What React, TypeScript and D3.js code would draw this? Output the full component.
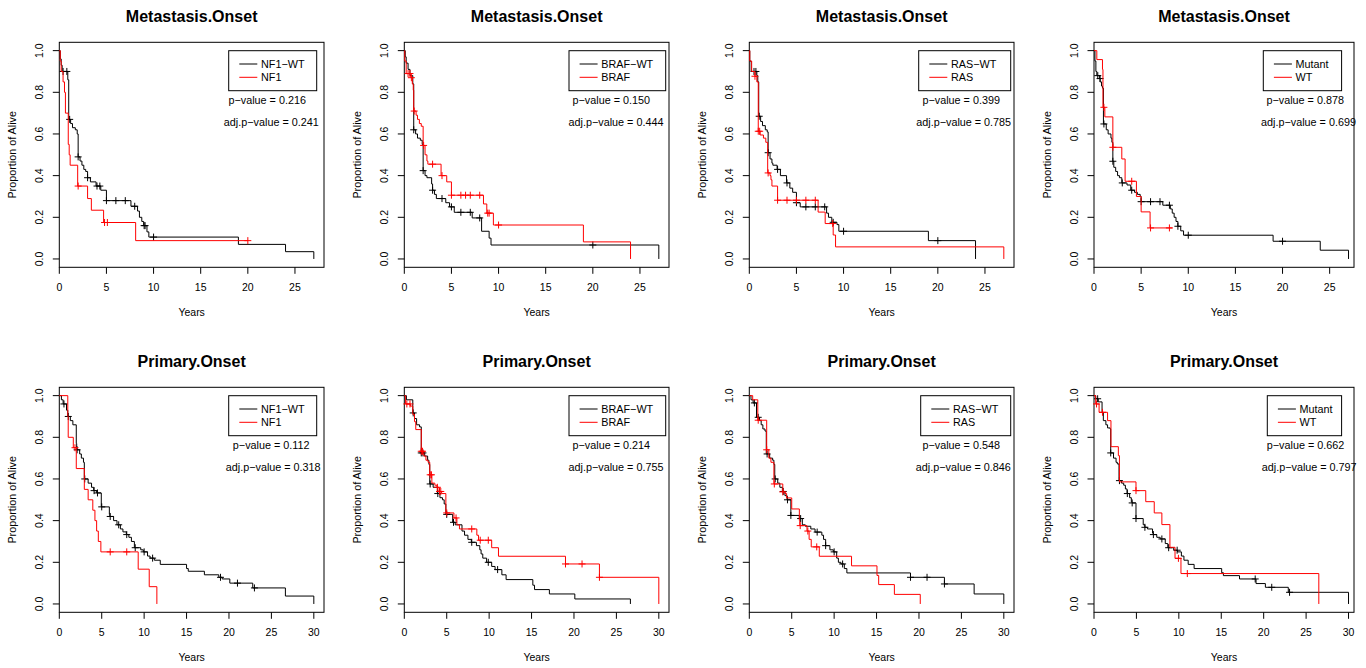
import React from "react";
import * as d3 from "d3";

// survival curves: [years, proportion alive after the event]
const metaNF1wt = [[0,1],[0.1,0.96],[0.2,0.93],[0.3,0.9],[0.9,0.86],[1.0,0.67],[1.2,0.65],[1.4,0.63],[1.7,0.62],[1.9,0.6],[2.0,0.49],[2.2,0.47],[2.4,0.45],[2.6,0.43],[2.8,0.42],[3.0,0.39],[3.3,0.37],[3.9,0.35],[4.4,0.33],[5.0,0.28],[7.6,0.253],[8.3,0.23],[8.5,0.2],[8.75,0.18],[8.95,0.16],[9.3,0.13],[9.5,0.105],[19,0.07],[24,0.035],[27,0]];
const metaNF1wtCens = [0.4,0.8,1.1,2.0,3.0,4.0,4.3,5.0,6.0,7.0,8.0,9.0,9.1,10.0];
const metaNF1 = [[0,1],[0.1,0.95],[0.2,0.9],[0.4,0.85],[0.55,0.8],[0.65,0.7],[0.95,0.55],[1.05,0.5],[1.15,0.45],[1.95,0.35],[3.0,0.29],[3.4,0.234],[4.7,0.175],[8.1,0.088],[20,0.088]];
const metaNF1Cens = [2.0,4.8,5.1,20];

const metaBRAFwt = [[0,1],[0.1,0.97],[0.2,0.94],[0.4,0.91],[0.6,0.88],[0.9,0.84],[1.0,0.62],[1.2,0.6],[1.4,0.58],[1.7,0.57],[1.9,0.55],[2.0,0.424],[2.2,0.4],[2.4,0.39],[2.9,0.36],[3.0,0.33],[3.2,0.31],[3.4,0.29],[4.4,0.27],[4.8,0.25],[5.3,0.224],[7.2,0.197],[8.2,0.133],[9.0,0.1],[9.2,0.067],[27,0]];
const metaBRAFwtCens = [1.0,2.0,3.0,4.0,5.0,6.0,7.0,8.0,20];
const metaBRAF = [[0,1],[0.05,0.95],[0.2,0.89],[0.7,0.87],[0.85,0.84],[0.95,0.81],[1.0,0.71],[1.25,0.69],[1.4,0.67],[1.6,0.65],[1.8,0.637],[2.0,0.545],[2.2,0.5],[2.4,0.47],[2.5,0.455],[3.9,0.4],[4.5,0.37],[5.0,0.306],[8.4,0.264],[8.75,0.22],[9.45,0.163],[19,0.082],[24,0]];
const metaBRAFCens = [0.4,0.6,0.75,1.05,2.05,3.0,4.0,5.0,6.0,6.5,7.0,8.0,8.85,9.0,10.0];

const metaRASwt = [[0,1],[0.05,0.95],[0.2,0.9],[0.8,0.88],[0.9,0.85],[1.0,0.685],[1.2,0.66],[1.4,0.64],[1.7,0.62],[1.9,0.61],[2.0,0.51],[2.2,0.48],[2.4,0.46],[2.5,0.45],[2.95,0.43],[3.3,0.4],[3.95,0.365],[4.3,0.34],[4.6,0.32],[5.0,0.27],[5.4,0.25],[8.2,0.22],[8.4,0.2],[8.75,0.176],[9.3,0.165],[9.5,0.133],[19,0.088],[24,0]];
const metaRASwtCens = [0.5,0.7,1.05,2.0,3.0,4.0,5.0,6.0,7.0,8.0,8.9,10.0,20];
const metaRAS = [[0,1],[0.05,0.95],[0.25,0.9],[0.6,0.877],[0.8,0.85],[0.95,0.613],[1.15,0.595],[1.5,0.58],[1.75,0.56],[1.95,0.413],[2.2,0.4],[2.3,0.38],[2.4,0.35],[3.0,0.282],[7.3,0.225],[8.05,0.17],[8.9,0.115],[9.15,0.058],[27,0]];
const metaRASCens = [0.6,0.95,1.1,2.0,3.0,4.0,5.0,6.0,7.0,8.85];

const metaMut = [[0,1],[0.1,0.95],[0.2,0.9],[0.3,0.88],[0.6,0.866],[0.65,0.85],[0.8,0.83],[0.9,0.82],[1.0,0.648],[1.3,0.62],[1.5,0.6],[1.8,0.58],[1.9,0.56],[2.0,0.469],[2.1,0.44],[2.3,0.42],[2.5,0.4],[2.7,0.39],[2.95,0.365],[3.5,0.355],[3.9,0.33],[4.3,0.32],[4.6,0.31],[4.9,0.3],[5.0,0.275],[7.3,0.258],[8.1,0.24],[8.3,0.22],[8.5,0.2],[8.7,0.18],[8.9,0.157],[9.2,0.135],[9.5,0.114],[19,0.085],[24,0.042],[27,0]];
const metaMutCens = [0.4,0.64,1.05,2.0,3.0,4.0,5.0,6.0,7.0,8.0,8.9,10.0,20];
const metaWT = [[0,1],[0.3,0.957],[0.9,0.91],[0.95,0.728],[1.15,0.682],[2.0,0.536],[2.95,0.48],[3.3,0.373],[4.5,0.3],[5.0,0.226],[5.95,0.149],[8.3,0.149]];
const metaWTCens = [1.05,2.0,4.0,6.0,8.0];

const primNF1wt = [[0,1],[0.25,0.98],[0.45,0.96],[0.85,0.93],[1.0,0.9],[1.3,0.88],[1.6,0.86],[2.0,0.77],[2.05,0.74],[2.4,0.72],[2.6,0.7],[2.85,0.68],[2.95,0.6],[3.4,0.58],[3.8,0.56],[4.05,0.544],[4.4,0.533],[4.95,0.466],[5.9,0.43],[5.95,0.42],[6.4,0.4],[6.8,0.38],[7.2,0.36],[7.5,0.346],[7.9,0.333],[8.2,0.32],[8.5,0.3],[8.85,0.27],[9.6,0.26],[9.9,0.25],[10.4,0.23],[10.7,0.22],[11.2,0.21],[11.9,0.19],[15.0,0.17],[15.2,0.157],[17.1,0.14],[18.8,0.128],[19.2,0.12],[20.1,0.1],[22.8,0.077],[26.65,0.038],[30,0]];
const primNF1wtCens = [0.55,1.06,2.1,3.0,4.1,4.5,5.0,6.0,7.0,7.95,8.95,10.0,11.0,19.0,21.0,23.0];
const primNF1 = [[0,1],[1.0,0.9],[1.05,0.8],[1.65,0.75],[2.0,0.65],[2.95,0.55],[3.4,0.5],[3.95,0.45],[4.2,0.4],[4.4,0.35],[4.6,0.3],[4.9,0.25],[9.3,0.167],[10.6,0.083],[11.5,0]];
const primNF1Cens = [1.85,6.0,7.95];

const primBRAFwt = [[0,1],[0.25,0.98],[1.0,0.917],[1.2,0.89],[1.45,0.86],[1.8,0.85],[2.0,0.725],[2.4,0.71],[2.75,0.69],[2.9,0.67],[3.0,0.576],[3.4,0.56],[3.9,0.53],[4.2,0.51],[4.5,0.5],[4.7,0.48],[4.9,0.43],[5.7,0.392],[6.0,0.38],[6.8,0.35],[7.1,0.33],[7.5,0.31],[7.9,0.296],[8.5,0.28],[8.9,0.26],[9.05,0.24],[9.25,0.22],[9.7,0.2],[10.3,0.18],[10.7,0.165],[11.5,0.14],[12.0,0.117],[15.15,0.09],[15.35,0.069],[17.1,0.048],[20.1,0.024],[26.65,0]];
const primBRAFwtCens = [1.05,2.0,2.2,3.05,3.95,5.0,5.8,7.95,9.9,11.0];
const primBRAF = [[0,1],[0.15,0.96],[0.7,0.95],[1.0,0.91],[1.2,0.875],[1.35,0.837],[2.0,0.733],[2.3,0.71],[2.55,0.69],[2.8,0.68],[3.0,0.62],[3.25,0.58],[3.6,0.57],[3.85,0.56],[4.1,0.54],[4.4,0.53],[4.9,0.437],[5.85,0.413],[6.2,0.38],[6.5,0.36],[8.55,0.33],[8.75,0.306],[10.3,0.27],[11.1,0.229],[19,0.192],[23,0.128],[30,0]];
const primBRAFCens = [0.3,0.67,2.0,2.15,3.05,3.2,3.9,4.15,4.3,5.0,6.1,7.95,8.95,9.9,19.0,20.95,23.0];

const primRASwt = [[0,1],[0.2,0.98],[0.45,0.965],[0.85,0.896],[1.2,0.88],[1.4,0.86],[1.6,0.84],[1.85,0.83],[2.0,0.72],[2.4,0.7],[2.75,0.69],[2.9,0.67],[3.0,0.6],[3.35,0.58],[3.6,0.56],[3.9,0.54],[4.2,0.52],[4.45,0.5],[4.9,0.425],[5.9,0.41],[6.25,0.38],[6.6,0.373],[7.25,0.36],[7.75,0.345],[8.55,0.33],[8.75,0.31],[9.0,0.28],[9.5,0.26],[9.9,0.25],[10.3,0.22],[10.5,0.2],[10.8,0.192],[11.2,0.17],[11.5,0.149],[19,0.128],[23,0.096],[26.5,0.048],[30,0]];
const primRASwtCens = [0.6,1.05,2.1,3.05,4.0,4.5,4.9,6.05,8.0,9.0,10.0,11.0,19.0,20.95,23.0];
const primRAS = [[0,1],[0.4,0.98],[1.0,0.882],[2.05,0.74],[2.3,0.7],[2.55,0.68],[2.9,0.576],[3.95,0.538],[4.2,0.53],[4.4,0.509],[5.0,0.456],[5.9,0.4],[5.95,0.376],[6.8,0.35],[7.05,0.31],[7.3,0.274],[8.25,0.229],[12.05,0.183],[15.05,0.137],[15.25,0.093],[17.1,0.046],[20.15,0]];
const primRASCens = [1.05,2.05,2.95,3.95,6.0,6.9,7.95];

const primMut = [[0,1],[0.2,0.985],[0.5,0.97],[0.95,0.92],[1.1,0.88],[1.4,0.86],[1.6,0.845],[1.9,0.84],[1.97,0.725],[2.3,0.7],[2.6,0.68],[2.75,0.672],[2.95,0.592],[3.25,0.58],[3.5,0.57],[3.7,0.552],[3.9,0.53],[4.2,0.51],[4.4,0.49],[4.5,0.485],[4.95,0.41],[5.8,0.38],[6.0,0.368],[6.3,0.36],[6.9,0.34],[7.0,0.333],[7.4,0.32],[7.8,0.312],[8.4,0.29],[8.7,0.27],[9.4,0.258],[9.85,0.25],[10.3,0.23],[10.6,0.21],[11.1,0.19],[11.8,0.17],[15.05,0.15],[15.25,0.136],[17.15,0.12],[19.1,0.098],[20.2,0.08],[22.9,0.056],[30,0]];
const primMutCens = [0.43,1.97,3.0,3.93,4.5,4.95,6.0,7.0,8.0,8.8,9.8,19.0,20.95,23.05];
const primWT = [[0,1],[0.2,0.96],[0.6,0.92],[1.6,0.88],[2.0,0.755],[2.87,0.712],[3.0,0.586],[4.95,0.544],[6.1,0.491],[7.1,0.437],[8.0,0.381],[8.95,0.272],[9.55,0.219],[10.25,0.146],[26.5,0]];
const primWTCens = [0.3,1.0,4.95,9.95,11.0];

const titles = ["Metastasis.Onset", "Primary.Onset"];
const groupLabels = [["NF1\u2212WT", "NF1"], ["BRAF\u2212WT", "BRAF"], ["RAS\u2212WT", "RAS"], ["Mutant", "WT"]];
const pValues = ["0.216", "0.150", "0.399", "0.878", "0.112", "0.214", "0.548", "0.662"];
const adjPValues = ["0.241", "0.444", "0.785", "0.699", "0.318", "0.755", "0.846", "0.797"];
const xMax = [27, 30];
const xTicksMeta = [0, 5, 10, 15, 20, 25];
const xTicksPrim = [0, 5, 10, 15, 20, 25, 30];
const yTicks = [0, 0.2, 0.4, 0.6, 0.8, 1.0];

const blackCurves = [metaNF1wt, metaBRAFwt, metaRASwt, metaMut, primNF1wt, primBRAFwt, primRASwt, primMut];
const blackCens = [metaNF1wtCens, metaBRAFwtCens, metaRASwtCens, metaMutCens, primNF1wtCens, primBRAFwtCens, primRASwtCens, primMutCens];
const redCurves = [metaNF1, metaBRAF, metaRAS, metaWT, primNF1, primBRAF, primRAS, primWT];
const redCens = [metaNF1Cens, metaBRAFCens, metaRASCens, metaWTCens, primNF1Cens, primBRAFCens, primRASCens, primWTCens];

// layout (pixels), measured per column
const boxLeft = [59.3, 404.3, 749.3, 1094];
const boxRight = [324, 669, 1014, 1354];
const plotW = 264.7;
const boxTop = 42.3, boxBottom = 267.3, rowGap = 345;
const legLeft = [169.4, 164.7, 169.4, 169.3, 169.4, 164.7, 171.4, 173.3];
const legW = [88, 96.7, 92, 78.3, 88, 96.7, 90, 74.3];
const pX = [207.9, 207, 211.9, 211.2, 211.9, 207, 211.9, 211.5];
const adjX = [212, 211.7, 214.4, 214.5, 213.9, 211.7, 214, 215.2];

const font = "'Liberation Sans', Arial, Helvetica, sans-serif";
const RED = "#ff0000";

function survAt(pts: number[][], t: number) {
  let s = 1;
  for (const p of pts) if (p[0] <= t + 1e-9) s = p[1];
  return s;
}

function Panel({ i }: { i: number }) {
  const col = i % 4, row = Math.floor(i / 4);
  const dy = row * rowGap;
  const top = boxTop + dy, bottom = boxBottom + dy;
  const left = boxLeft[col], right = boxRight[col];
  const xm = xMax[row];
  const x = d3.scaleLinear().domain([0, xm * 1.04]).range([left, left + plotW]);
  const y = d3.scaleLinear().domain([-0.04, 1.04]).range([bottom, top]);
  const line = d3.line<number[]>().x(d => x(d[0])).y(d => y(d[1])).curve(d3.curveStepAfter);
  const xTicks = row === 0 ? xTicksMeta : xTicksPrim;
  const fmt = d3.format(".1f");
  const cx = (left + right) / 2;
  const cy = (top + bottom) / 2;
  const cross = (pts: number[][], cens: number[]) =>
    cens.map(t => {
      const px = x(t), py = y(survAt(pts, t));
      return `M${px - 3.5},${py}H${px + 3.5}M${px},${py - 3.5}V${py + 3.5}`;
    }).join("");
  const lx = left + legLeft[i];
  const ly = 50.7 + dy;
  const labels = groupLabels[col];
  return (
    <g fontFamily={font}>
      <text x={cx} y={21.7 + dy} textAnchor="middle" fontSize={16} fontWeight="bold">{titles[row]}</text>
      <rect x={left} y={top} width={right - left} height={bottom - top} fill="none" stroke="#000" strokeWidth={1} />
      {xTicks.map(t => (
        <g key={"x" + t}>
          <line x1={x(t)} x2={x(t)} y1={bottom} y2={bottom + 6.5} stroke="#000" />
          <text x={x(t)} y={bottom + 23.4} textAnchor="middle" fontSize={10.5}>{t}</text>
        </g>
      ))}
      {yTicks.map(t => (
        <g key={"y" + t}>
          <line x1={left - 6.5} x2={left} y1={y(t)} y2={y(t)} stroke="#000" />
          <text transform={`translate(${left - 16.5},${y(t)}) rotate(-90)`} textAnchor="middle" fontSize={10.5}>{fmt(t)}</text>
        </g>
      ))}
      <text x={cx} y={bottom + 49} textAnchor="middle" fontSize={10.5}>Years</text>
      <text transform={`translate(${left - 43},${cy}) rotate(-90)`} textAnchor="middle" fontSize={10.8}>Proportion of Alive</text>
      <path d={line(blackCurves[i]) || ""} fill="none" stroke="#000" strokeWidth={1} />
      <path d={cross(blackCurves[i], blackCens[i])} fill="none" stroke="#000" strokeWidth={1} />
      <path d={line(redCurves[i]) || ""} fill="none" stroke={RED} strokeWidth={1} />
      <path d={cross(redCurves[i], redCens[i])} fill="none" stroke={RED} strokeWidth={1} />
      <rect x={lx} y={ly} width={legW[i]} height={40} fill="#fff" stroke="#000" strokeWidth={1} />
      <line x1={lx + 10.6} x2={lx + 28.6} y1={ly + 13.3} y2={ly + 13.3} stroke="#000" />
      <line x1={lx + 10.6} x2={lx + 28.6} y1={ly + 26.6} y2={ly + 26.6} stroke={RED} />
      <text x={lx + 32.3} y={ly + 17.1} fontSize={10.8}>{labels[0]}</text>
      <text x={lx + 32.3} y={ly + 30.4} fontSize={10.8}>{labels[1]}</text>
      <text x={left + pX[i]} y={104 + dy} textAnchor="middle" fontSize={10.8}>{"p\u2212value = " + pValues[i]}</text>
      <text x={left + adjX[i]} y={126 + dy} textAnchor="middle" fontSize={10.8}>{"adj.p\u2212value = " + adjPValues[i]}</text>
    </g>
  );
}

export default function App() {
  return (
    <svg width={1366} height={668} style={{ position: "absolute", left: 0, top: 0, background: "#fff" }}>
      <rect width={1366} height={668} fill="#fff" />
      {d3.range(8).map(i => <Panel key={i} i={i} />)}
    </svg>
  );
}
